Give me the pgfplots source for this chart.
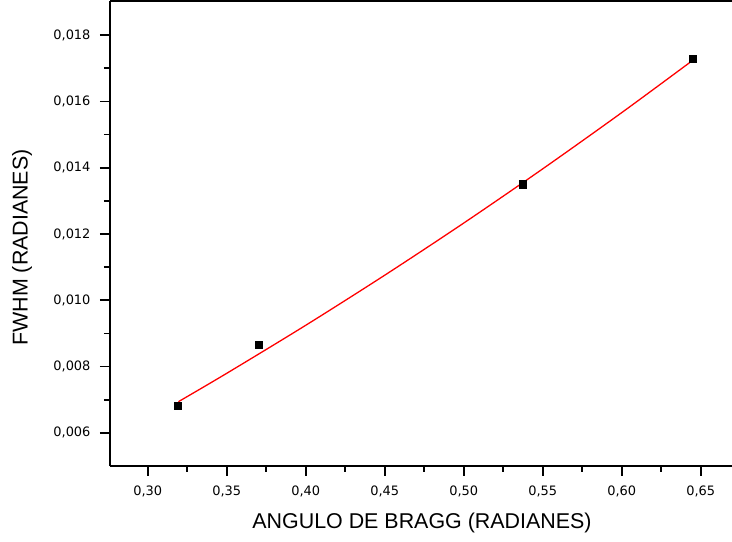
\documentclass[border=0pt]{standalone}
\usepackage{fontspec}
\setmainfont{Liberation Sans}
\newfontfamily\tickfont{DejaVu Sans}
\usepackage{pgfplots}
\pgfplotsset{compat=1.18}

\begin{document}
\begin{tikzpicture}
\begin{axis}[name=ax, scale only axis, width=622bp, height=465bp,
  xmin=0.2761, xmax=0.6698, ymin=0.005, ymax=0.01903,
  axis x line*=bottom, axis y line*=left,
  axis line style={-, line width=1.6bp, black},
  tick align=outside, major tick length=10bp, minor tick length=6bp,
  every tick/.style={black, line width=1.6bp},
  xtick={0.30,0.35,0.40,0.45,0.50,0.55,0.60,0.65},
  ytick={0.006,0.008,0.010,0.012,0.014,0.016,0.018},
  minor x tick num=1, minor y tick num=1,
  scaled x ticks=false, scaled y ticks=false,
  /pgf/number format/assume math mode=true,
  ticklabel style={font=\tickfont\fontsize{13}{15}\selectfont, black},
  xticklabel style={yshift=-6bp, /pgf/number format/.cd, fixed, fixed zerofill, precision=2, use comma},
  yticklabel style={xshift=-6bp, /pgf/number format/.cd, fixed, fixed zerofill, precision=3, use comma},
  xlabel={ANGULO DE BRAGG (RADIANES)},
  ylabel={FWHM (RADIANES)},
  label style={font=\fontsize{21.5}{24}\selectfont},
  xlabel style={at={(axis description cs:0.5016,-0.1226)}, anchor=center},
  ylabel style={at={(axis description cs:-0.1415,0.47)}, anchor=center, rotate=0},
  clip=false,
]
\draw[line width=1.6bp, black] (rel axis cs:0,1) -- (rel axis cs:1,1);
\addplot[red, line width=1.3bp, no marks, smooth] coordinates {
(0.3194,0.006940) (0.35,0.007797) (0.40,0.009246) (0.45,0.010757)
(0.50,0.012330) (0.55,0.013966) (0.60,0.015662) (0.6437,0.017196)
};
\addplot[only marks, mark=square*, mark size=3.6bp, black] coordinates {
(0.3187,0.00681) (0.3704,0.00865) (0.5371,0.01350) (0.6447,0.01730)
};
\end{axis}
\pgfresetboundingbox
\path ([shift={(-110bp,-76bp)}]ax.south west) rectangle ([shift={(0bp,1bp)}]ax.north east);
\end{tikzpicture}
\end{document}
